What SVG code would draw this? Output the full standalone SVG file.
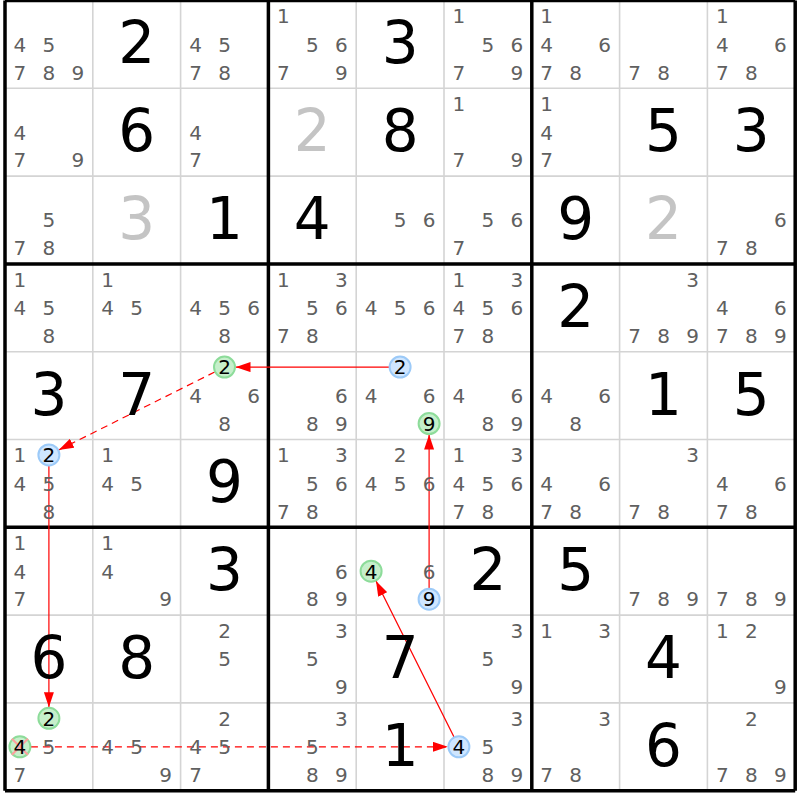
<svg xmlns="http://www.w3.org/2000/svg" width="800" height="800" viewBox="0 0 800 800">
<style>
text{font-family:"DejaVu Sans","Liberation Sans",sans-serif;text-anchor:middle}
.c{font-size:20px;fill:#606060}
.k{font-size:20px;fill:#000}
.g{font-size:58px;fill:#000}
.s{font-size:58px;fill:#c4c4c4}
.thin{stroke:#d4d4d4;stroke-width:1.6}
.thick{stroke:#000;stroke-width:3.5}
.blue{fill:#cfe6ff;stroke:#9ccaf8;stroke-width:2}
.green{fill:#c6efcb;stroke:#8ddc9a;stroke-width:2}
.ln{stroke:#ff0000;stroke-width:1.2;fill:none}
.dash{stroke-dasharray:7 5}
.x{stroke:#ff9e9e;stroke-width:2}
</style>
<defs>
<marker id="ah" markerUnits="userSpaceOnUse" markerWidth="15" markerHeight="10" refX="15" refY="5" orient="auto">
<path d="M0,0 L15,5 L0,10 z" fill="#ff0000"/>
</marker>
</defs>
<rect x="0" y="0" width="800" height="800" fill="#fff"/>
<g id="grid">
<path class="thin" d="M92.8,0.5V790.7M180.6,0.5V790.7M356.2,0.5V790.7M444,0.5V790.7M619.6,0.5V790.7M707.4,0.5V790.7M5,88.3H795.2M5,176.1H795.2M5,351.7H795.2M5,439.5H795.2M5,615.1H795.2M5,702.9H795.2"/>
<path class="thick" d="M5,0.5V790.7M268.4,0.5V790.7M531.8,0.5V790.7M795.2,0.5V790.7M5,0.5H795.2M5,263.9H795.2M5,527.3H795.2M5,790.7H795.2"/>
</g>
<g id="links">
<line class="ln" x1="389.1" y1="367.1" x2="235.5" y2="367.1" marker-end="url(#ah)"/>
<line class="ln dash" x1="214.7" y1="372" x2="58.7" y2="450" marker-end="url(#ah)"/>
<line class="ln" x1="48.9" y1="465.9" x2="48.9" y2="707.3" marker-end="url(#ah)"/>
<line class="ln dash" x1="30.9" y1="746.8" x2="447.9" y2="746.8" marker-end="url(#ah)"/>
<line class="ln" x1="454" y1="737" x2="376" y2="581" marker-end="url(#ah)"/>
<line class="ln" x1="429.1" y1="588.2" x2="429.1" y2="434.6" marker-end="url(#ah)"/>
</g>
<!-- row 0 -->
<g id="r0c0" transform="translate(48.9,44.4)"><text class="c" x="-29" y="7.3">4</text><text class="c" x="0" y="7.3">5</text><text class="c" x="-29" y="35.3">7</text><text class="c" x="0" y="35.3">8</text><text class="c" x="29" y="35.3">9</text></g>
<g id="r0c1" transform="translate(136.7,44.4)"><text class="g" y="19">2</text></g>
<g id="r0c2" transform="translate(224.5,44.4)"><text class="c" x="-29" y="7.3">4</text><text class="c" x="0" y="7.3">5</text><text class="c" x="-29" y="35.3">7</text><text class="c" x="0" y="35.3">8</text></g>
<g id="r0c3" transform="translate(312.3,44.4)"><text class="c" x="-29" y="-21.2">1</text><text class="c" x="0" y="7.3">5</text><text class="c" x="29" y="7.3">6</text><text class="c" x="-29" y="35.3">7</text><text class="c" x="29" y="35.3">9</text></g>
<g id="r0c4" transform="translate(400.1,44.4)"><text class="g" y="19">3</text></g>
<g id="r0c5" transform="translate(487.9,44.4)"><text class="c" x="-29" y="-21.2">1</text><text class="c" x="0" y="7.3">5</text><text class="c" x="29" y="7.3">6</text><text class="c" x="-29" y="35.3">7</text><text class="c" x="29" y="35.3">9</text></g>
<g id="r0c6" transform="translate(575.7,44.4)"><text class="c" x="-29" y="-21.2">1</text><text class="c" x="-29" y="7.3">4</text><text class="c" x="29" y="7.3">6</text><text class="c" x="-29" y="35.3">7</text><text class="c" x="0" y="35.3">8</text></g>
<g id="r0c7" transform="translate(663.5,44.4)"><text class="c" x="-29" y="35.3">7</text><text class="c" x="0" y="35.3">8</text></g>
<g id="r0c8" transform="translate(751.3,44.4)"><text class="c" x="-29" y="-21.2">1</text><text class="c" x="-29" y="7.3">4</text><text class="c" x="29" y="7.3">6</text><text class="c" x="-29" y="35.3">7</text><text class="c" x="0" y="35.3">8</text></g>
<!-- row 1 -->
<g id="r1c0" transform="translate(48.9,132.2)"><text class="c" x="-29" y="7.3">4</text><text class="c" x="-29" y="35.3">7</text><text class="c" x="29" y="35.3">9</text></g>
<g id="r1c1" transform="translate(136.7,132.2)"><text class="g" y="19">6</text></g>
<g id="r1c2" transform="translate(224.5,132.2)"><text class="c" x="-29" y="7.3">4</text><text class="c" x="-29" y="35.3">7</text></g>
<g id="r1c3" transform="translate(312.3,132.2)"><text class="s" y="19">2</text></g>
<g id="r1c4" transform="translate(400.1,132.2)"><text class="g" y="19">8</text></g>
<g id="r1c5" transform="translate(487.9,132.2)"><text class="c" x="-29" y="-21.2">1</text><text class="c" x="-29" y="35.3">7</text><text class="c" x="29" y="35.3">9</text></g>
<g id="r1c6" transform="translate(575.7,132.2)"><text class="c" x="-29" y="-21.2">1</text><text class="c" x="-29" y="7.3">4</text><text class="c" x="-29" y="35.3">7</text></g>
<g id="r1c7" transform="translate(663.5,132.2)"><text class="g" y="19">5</text></g>
<g id="r1c8" transform="translate(751.3,132.2)"><text class="g" y="19">3</text></g>
<!-- row 2 -->
<g id="r2c0" transform="translate(48.9,220)"><text class="c" x="0" y="7.3">5</text><text class="c" x="-29" y="35.3">7</text><text class="c" x="0" y="35.3">8</text></g>
<g id="r2c1" transform="translate(136.7,220)"><text class="s" y="19">3</text></g>
<g id="r2c2" transform="translate(224.5,220)"><text class="g" y="19">1</text></g>
<g id="r2c3" transform="translate(312.3,220)"><text class="g" y="19">4</text></g>
<g id="r2c4" transform="translate(400.1,220)"><text class="c" x="0" y="7.3">5</text><text class="c" x="29" y="7.3">6</text></g>
<g id="r2c5" transform="translate(487.9,220)"><text class="c" x="0" y="7.3">5</text><text class="c" x="29" y="7.3">6</text><text class="c" x="-29" y="35.3">7</text></g>
<g id="r2c6" transform="translate(575.7,220)"><text class="g" y="19">9</text></g>
<g id="r2c7" transform="translate(663.5,220)"><text class="s" y="19">2</text></g>
<g id="r2c8" transform="translate(751.3,220)"><text class="c" x="29" y="7.3">6</text><text class="c" x="-29" y="35.3">7</text><text class="c" x="0" y="35.3">8</text></g>
<!-- row 3 -->
<g id="r3c0" transform="translate(48.9,307.8)"><text class="c" x="-29" y="-21.2">1</text><text class="c" x="-29" y="7.3">4</text><text class="c" x="0" y="7.3">5</text><text class="c" x="0" y="35.3">8</text></g>
<g id="r3c1" transform="translate(136.7,307.8)"><text class="c" x="-29" y="-21.2">1</text><text class="c" x="-29" y="7.3">4</text><text class="c" x="0" y="7.3">5</text></g>
<g id="r3c2" transform="translate(224.5,307.8)"><text class="c" x="-29" y="7.3">4</text><text class="c" x="0" y="7.3">5</text><text class="c" x="29" y="7.3">6</text><text class="c" x="0" y="35.3">8</text></g>
<g id="r3c3" transform="translate(312.3,307.8)"><text class="c" x="-29" y="-21.2">1</text><text class="c" x="29" y="-21.2">3</text><text class="c" x="0" y="7.3">5</text><text class="c" x="29" y="7.3">6</text><text class="c" x="-29" y="35.3">7</text><text class="c" x="0" y="35.3">8</text></g>
<g id="r3c4" transform="translate(400.1,307.8)"><text class="c" x="-29" y="7.3">4</text><text class="c" x="0" y="7.3">5</text><text class="c" x="29" y="7.3">6</text></g>
<g id="r3c5" transform="translate(487.9,307.8)"><text class="c" x="-29" y="-21.2">1</text><text class="c" x="29" y="-21.2">3</text><text class="c" x="-29" y="7.3">4</text><text class="c" x="0" y="7.3">5</text><text class="c" x="29" y="7.3">6</text><text class="c" x="-29" y="35.3">7</text><text class="c" x="0" y="35.3">8</text></g>
<g id="r3c6" transform="translate(575.7,307.8)"><text class="g" y="19">2</text></g>
<g id="r3c7" transform="translate(663.5,307.8)"><text class="c" x="29" y="-21.2">3</text><text class="c" x="-29" y="35.3">7</text><text class="c" x="0" y="35.3">8</text><text class="c" x="29" y="35.3">9</text></g>
<g id="r3c8" transform="translate(751.3,307.8)"><text class="c" x="-29" y="7.3">4</text><text class="c" x="29" y="7.3">6</text><text class="c" x="-29" y="35.3">7</text><text class="c" x="0" y="35.3">8</text><text class="c" x="29" y="35.3">9</text></g>
<!-- row 4 -->
<g id="r4c0" transform="translate(48.9,395.6)"><text class="g" y="19">3</text></g>
<g id="r4c1" transform="translate(136.7,395.6)"><text class="g" y="19">7</text></g>
<g id="r4c2" transform="translate(224.5,395.6)"><circle class="green" cx="0" cy="-28.5" r="10.5"/><text class="k" x="0" y="-21.2">2</text><text class="c" x="-29" y="7.3">4</text><text class="c" x="29" y="7.3">6</text><text class="c" x="0" y="35.3">8</text></g>
<g id="r4c3" transform="translate(312.3,395.6)"><text class="c" x="29" y="7.3">6</text><text class="c" x="0" y="35.3">8</text><text class="c" x="29" y="35.3">9</text></g>
<g id="r4c4" transform="translate(400.1,395.6)"><circle class="blue" cx="0" cy="-28.5" r="10.5"/><text class="k" x="0" y="-21.2">2</text><text class="c" x="-29" y="7.3">4</text><text class="c" x="29" y="7.3">6</text><circle class="green" cx="29" cy="28" r="10.5"/><text class="k" x="29" y="35.3">9</text></g>
<g id="r4c5" transform="translate(487.9,395.6)"><text class="c" x="-29" y="7.3">4</text><text class="c" x="29" y="7.3">6</text><text class="c" x="0" y="35.3">8</text><text class="c" x="29" y="35.3">9</text></g>
<g id="r4c6" transform="translate(575.7,395.6)"><text class="c" x="-29" y="7.3">4</text><text class="c" x="29" y="7.3">6</text><text class="c" x="0" y="35.3">8</text></g>
<g id="r4c7" transform="translate(663.5,395.6)"><text class="g" y="19">1</text></g>
<g id="r4c8" transform="translate(751.3,395.6)"><text class="g" y="19">5</text></g>
<!-- row 5 -->
<g id="r5c0" transform="translate(48.9,483.4)"><text class="c" x="-29" y="-21.2">1</text><circle class="blue" cx="0" cy="-28.5" r="10.5"/><text class="k" x="0" y="-21.2">2</text><text class="c" x="-29" y="7.3">4</text><text class="c" x="0" y="7.3">5</text><text class="c" x="0" y="35.3">8</text></g>
<g id="r5c1" transform="translate(136.7,483.4)"><text class="c" x="-29" y="-21.2">1</text><text class="c" x="-29" y="7.3">4</text><text class="c" x="0" y="7.3">5</text></g>
<g id="r5c2" transform="translate(224.5,483.4)"><text class="g" y="19">9</text></g>
<g id="r5c3" transform="translate(312.3,483.4)"><text class="c" x="-29" y="-21.2">1</text><text class="c" x="29" y="-21.2">3</text><text class="c" x="0" y="7.3">5</text><text class="c" x="29" y="7.3">6</text><text class="c" x="-29" y="35.3">7</text><text class="c" x="0" y="35.3">8</text></g>
<g id="r5c4" transform="translate(400.1,483.4)"><text class="c" x="0" y="-21.2">2</text><text class="c" x="-29" y="7.3">4</text><text class="c" x="0" y="7.3">5</text><text class="c" x="29" y="7.3">6</text></g>
<g id="r5c5" transform="translate(487.9,483.4)"><text class="c" x="-29" y="-21.2">1</text><text class="c" x="29" y="-21.2">3</text><text class="c" x="-29" y="7.3">4</text><text class="c" x="0" y="7.3">5</text><text class="c" x="29" y="7.3">6</text><text class="c" x="-29" y="35.3">7</text><text class="c" x="0" y="35.3">8</text></g>
<g id="r5c6" transform="translate(575.7,483.4)"><text class="c" x="-29" y="7.3">4</text><text class="c" x="29" y="7.3">6</text><text class="c" x="-29" y="35.3">7</text><text class="c" x="0" y="35.3">8</text></g>
<g id="r5c7" transform="translate(663.5,483.4)"><text class="c" x="29" y="-21.2">3</text><text class="c" x="-29" y="35.3">7</text><text class="c" x="0" y="35.3">8</text></g>
<g id="r5c8" transform="translate(751.3,483.4)"><text class="c" x="-29" y="7.3">4</text><text class="c" x="29" y="7.3">6</text><text class="c" x="-29" y="35.3">7</text><text class="c" x="0" y="35.3">8</text></g>
<!-- row 6 -->
<g id="r6c0" transform="translate(48.9,571.2)"><text class="c" x="-29" y="-21.2">1</text><text class="c" x="-29" y="7.3">4</text><text class="c" x="-29" y="35.3">7</text></g>
<g id="r6c1" transform="translate(136.7,571.2)"><text class="c" x="-29" y="-21.2">1</text><text class="c" x="-29" y="7.3">4</text><text class="c" x="29" y="35.3">9</text></g>
<g id="r6c2" transform="translate(224.5,571.2)"><text class="g" y="19">3</text></g>
<g id="r6c3" transform="translate(312.3,571.2)"><text class="c" x="29" y="7.3">6</text><text class="c" x="0" y="35.3">8</text><text class="c" x="29" y="35.3">9</text></g>
<g id="r6c4" transform="translate(400.1,571.2)"><circle class="green" cx="-29" cy="0" r="10.5"/><text class="k" x="-29" y="7.3">4</text><text class="c" x="29" y="7.3">6</text><circle class="blue" cx="29" cy="28" r="10.5"/><text class="k" x="29" y="35.3">9</text></g>
<g id="r6c5" transform="translate(487.9,571.2)"><text class="g" y="19">2</text></g>
<g id="r6c6" transform="translate(575.7,571.2)"><text class="g" y="19">5</text></g>
<g id="r6c7" transform="translate(663.5,571.2)"><text class="c" x="-29" y="35.3">7</text><text class="c" x="0" y="35.3">8</text><text class="c" x="29" y="35.3">9</text></g>
<g id="r6c8" transform="translate(751.3,571.2)"><text class="c" x="-29" y="35.3">7</text><text class="c" x="0" y="35.3">8</text><text class="c" x="29" y="35.3">9</text></g>
<!-- row 7 -->
<g id="r7c0" transform="translate(48.9,659)"><text class="g" y="19">6</text></g>
<g id="r7c1" transform="translate(136.7,659)"><text class="g" y="19">8</text></g>
<g id="r7c2" transform="translate(224.5,659)"><text class="c" x="0" y="-21.2">2</text><text class="c" x="0" y="7.3">5</text></g>
<g id="r7c3" transform="translate(312.3,659)"><text class="c" x="29" y="-21.2">3</text><text class="c" x="0" y="7.3">5</text><text class="c" x="29" y="35.3">9</text></g>
<g id="r7c4" transform="translate(400.1,659)"><text class="g" y="19">7</text></g>
<g id="r7c5" transform="translate(487.9,659)"><text class="c" x="29" y="-21.2">3</text><text class="c" x="0" y="7.3">5</text><text class="c" x="29" y="35.3">9</text></g>
<g id="r7c6" transform="translate(575.7,659)"><text class="c" x="-29" y="-21.2">1</text><text class="c" x="29" y="-21.2">3</text></g>
<g id="r7c7" transform="translate(663.5,659)"><text class="g" y="19">4</text></g>
<g id="r7c8" transform="translate(751.3,659)"><text class="c" x="-29" y="-21.2">1</text><text class="c" x="0" y="-21.2">2</text><text class="c" x="29" y="35.3">9</text></g>
<!-- row 8 -->
<g id="r8c0" transform="translate(48.9,746.8)"><circle class="green" cx="0" cy="-28.5" r="10.5"/><text class="k" x="0" y="-21.2">2</text><circle class="green" cx="-29" cy="0" r="10.5"/><path class="x" d="M-37,-8L-21,8M-37,8L-21,-8"/><text class="k" x="-29" y="7.3">4</text><text class="c" x="0" y="7.3">5</text><text class="c" x="-29" y="35.3">7</text></g>
<g id="r8c1" transform="translate(136.7,746.8)"><text class="c" x="-29" y="7.3">4</text><text class="c" x="0" y="7.3">5</text><text class="c" x="29" y="35.3">9</text></g>
<g id="r8c2" transform="translate(224.5,746.8)"><text class="c" x="0" y="-21.2">2</text><text class="c" x="-29" y="7.3">4</text><text class="c" x="0" y="7.3">5</text><text class="c" x="-29" y="35.3">7</text></g>
<g id="r8c3" transform="translate(312.3,746.8)"><text class="c" x="29" y="-21.2">3</text><text class="c" x="0" y="7.3">5</text><text class="c" x="0" y="35.3">8</text><text class="c" x="29" y="35.3">9</text></g>
<g id="r8c4" transform="translate(400.1,746.8)"><text class="g" y="19">1</text></g>
<g id="r8c5" transform="translate(487.9,746.8)"><text class="c" x="29" y="-21.2">3</text><circle class="blue" cx="-29" cy="0" r="10.5"/><text class="k" x="-29" y="7.3">4</text><text class="c" x="0" y="7.3">5</text><text class="c" x="0" y="35.3">8</text><text class="c" x="29" y="35.3">9</text></g>
<g id="r8c6" transform="translate(575.7,746.8)"><text class="c" x="29" y="-21.2">3</text><text class="c" x="-29" y="35.3">7</text><text class="c" x="0" y="35.3">8</text></g>
<g id="r8c7" transform="translate(663.5,746.8)"><text class="g" y="19">6</text></g>
<g id="r8c8" transform="translate(751.3,746.8)"><text class="c" x="0" y="-21.2">2</text><text class="c" x="-29" y="35.3">7</text><text class="c" x="0" y="35.3">8</text><text class="c" x="29" y="35.3">9</text></g>
</svg>
